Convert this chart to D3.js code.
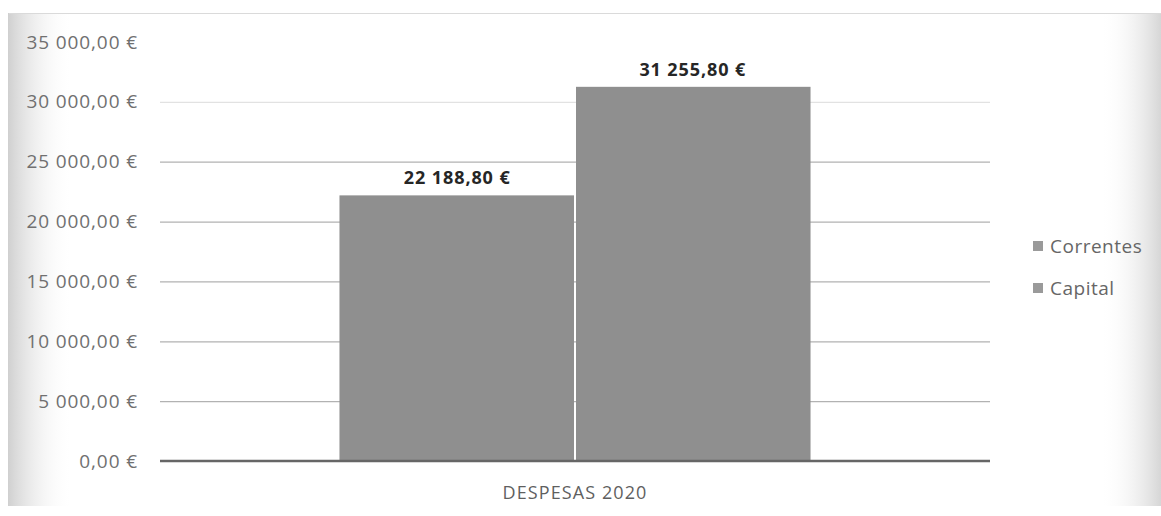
<!DOCTYPE html>
<html>
<head>
<meta charset="utf-8">
<script src="https://cdn.jsdelivr.net/npm/d3@7"></script>
<style>
  html, body { margin: 0; padding: 0; background: #ffffff; }
  svg { display: block; }
</style>
</head>
<body>
<svg id="chart" width="1161" height="516"></svg>
<script>
// ---- data ----
const categories = ["DESPESAS 2020"];
const seriesNames = ["Correntes", "Capital"];
const correntesValues = [22188.80];
const capitalValues = [31255.80];
const tickValues = [0, 5000, 10000, 15000, 20000, 25000, 30000, 35000];

// ---- setup ----
const W = 1161, H = 516;
const svg = d3.select("#chart");
const locale = d3.formatLocale({ decimal: ",", thousands: " ", grouping: [3], currency: ["", " €"] });
const fmt = locale.format("$,.2f");
const FONT = "'Open Sans', sans-serif";

const margin = { left: 160, right: 171 };
const plotRight = W - margin.right;
const y = d3.scaleLinear().domain([0, 35000]).range([461, 42]);
const x0 = d3.scaleBand().domain(categories).range([margin.left, plotRight]).paddingInner(0).paddingOuter(0.381);
const x1 = d3.scaleBand().domain(seriesNames).range([0, x0.bandwidth()]).padding(0);
const color = d3.scaleOrdinal().domain(seriesNames).range(["#8f8f8f", "#8f8f8f"]);

// ---- scan-like background ----
const defs = svg.append("defs");
const gl = defs.append("linearGradient").attr("id", "gl").attr("x1", "0").attr("x2", "1");
gl.append("stop").attr("offset", "0").attr("stop-color", "#d0d0d0");
gl.append("stop").attr("offset", "1").attr("stop-color", "#ffffff").attr("stop-opacity", 0);
const gr = defs.append("linearGradient").attr("id", "gr").attr("x1", "0").attr("x2", "1");
gr.append("stop").attr("offset", "0").attr("stop-color", "#ffffff").attr("stop-opacity", 0);
gr.append("stop").attr("offset", "1").attr("stop-color", "#d6d6d6");

svg.append("rect").attr("x", 8).attr("y", 13).attr("width", W - 8).attr("height", 493).attr("fill", "#ffffff");
svg.append("rect").attr("x", 8).attr("y", 13).attr("width", 65).attr("height", 493).attr("fill", "url(#gl)");
svg.append("rect").attr("x", 1100).attr("y", 13).attr("width", 61).attr("height", 493).attr("fill", "url(#gr)");
svg.append("line").attr("x1", 8).attr("x2", W).attr("y1", 13.5).attr("y2", 13.5).attr("stroke", "#dadada");
svg.append("line").attr("x1", 8.5).attr("x2", 8.5).attr("y1", 13).attr("y2", 506).attr("stroke", "#d0d0d0");

// ---- gridlines + y axis ----
const yAxis = d3.axisLeft(y).tickValues(tickValues).tickFormat(fmt).tickSize(0).tickPadding(22);
const gy = svg.append("g").attr("transform", `translate(${margin.left},0)`).call(yAxis);
gy.select(".domain").remove();
gy.selectAll("text")
  .attr("font-family", FONT)
  .attr("font-size", 19)
  .attr("letter-spacing", 0.9)
  .attr("fill", "#707070");

const grid = d3.axisLeft(y).tickValues(tickValues.filter(v => v > 0 && v < 35000)).tickSize(-(plotRight - margin.left)).tickFormat("");
const gg = svg.append("g").attr("transform", `translate(${margin.left},0)`).call(grid);
gg.select(".domain").remove();
gg.selectAll("line")
  .attr("stroke", d => d === 30000 ? "#e2e2e2" : "#b2b2b2")
  .attr("stroke-width", 1.2);

// ---- bars ----
const rows = categories.map((c, i) => ({ cat: c, vals: [
  { key: "Correntes", value: correntesValues[i] },
  { key: "Capital", value: capitalValues[i] }
]}));

const groups = svg.append("g").selectAll("g").data(rows).join("g")
  .attr("transform", d => `translate(${x0(d.cat)},0)`);

groups.selectAll("rect").data(d => d.vals).join("rect")
  .attr("x", d => x1(d.key) + (d.key === "Capital" ? 1 : 0))
  .attr("width", d => x1.bandwidth() - 1)
  .attr("y", d => y(d.value))
  .attr("height", d => y(0) - y(d.value))
  .attr("fill", d => color(d.key));

groups.selectAll("text.lbl").data(d => d.vals).join("text")
  .attr("class", "lbl")
  .attr("x", d => x1(d.key) + x1.bandwidth() / 2)
  .attr("y", d => y(d.value) - 11)
  .attr("text-anchor", "middle")
  .attr("font-family", FONT)
  .attr("font-weight", "bold")
  .attr("font-size", 18)
  .attr("letter-spacing", 0.9)
  .attr("fill", "#262626")
  .text(d => fmt(d.value));

// ---- baseline ----
svg.append("line").attr("x1", margin.left).attr("x2", plotRight).attr("y1", y(0)).attr("y2", y(0))
  .attr("stroke", "#666666").attr("stroke-width", 2.5);

// ---- x axis ----
const xAxis = d3.axisBottom(x0).tickSize(0).tickPadding(25);
const gx = svg.append("g").attr("transform", `translate(0,${y(0)})`).call(xAxis);
gx.select(".domain").remove();
gx.selectAll("text")
  .attr("font-family", FONT)
  .attr("font-size", 18)
  .attr("letter-spacing", 1.1)
  .attr("fill", "#5f5f5f");

// ---- legend ----
const legend = svg.append("g").attr("transform", "translate(1033,246)");
const li = legend.selectAll("g").data(seriesNames).join("g")
  .attr("transform", (d, i) => `translate(0,${i * 42})`);
li.append("rect").attr("x", 0).attr("y", -5).attr("width", 10).attr("height", 10).attr("fill", "#9a9a9a");
li.append("text").attr("x", 17).attr("y", 0).attr("dy", "0.35em")
  .attr("font-family", FONT)
  .attr("font-size", 19)
  .attr("letter-spacing", 0.5)
  .attr("fill", "#666666")
  .text(d => d);
</script>
</body>
</html>
